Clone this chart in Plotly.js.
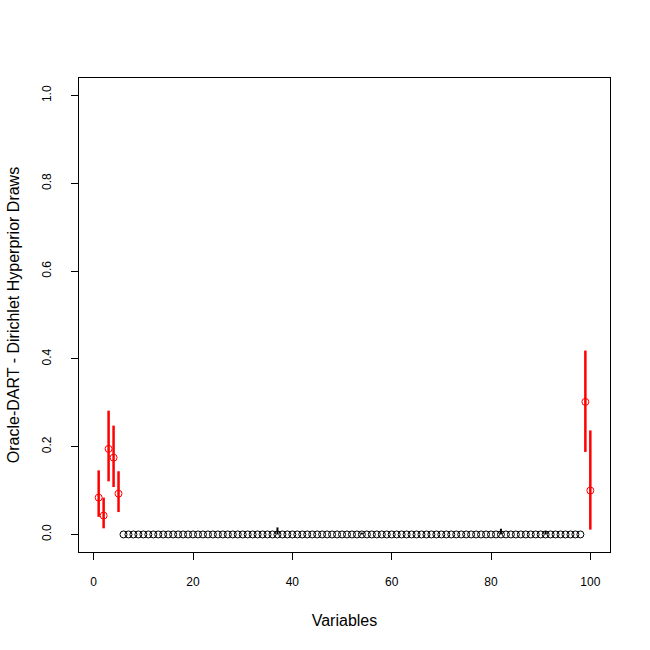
<!DOCTYPE html>
<html>
<head>
<meta charset="utf-8">
<script src="https://cdn.plot.ly/plotly-3.0.1.min.js"></script>
<style>
  html, body { margin: 0; padding: 0; background: #fff; }
  #chart { width: 650px; height: 650px; }
</style>
</head>
<body>
<div id="chart"></div>
<script>
// signal variables (red) with their interval ends
const signalX = [1, 2, 3, 4, 5, 99, 100];
const signalY = [0.084, 0.043, 0.195, 0.175, 0.093, 0.302, 0.100];
const signalLo = [0.040, 0.014, 0.121, 0.108, 0.051, 0.188, 0.011];
const signalHi = [0.146, 0.084, 0.282, 0.248, 0.144, 0.419, 0.237];

// noise variables (black), all drawn at zero
const noiseX = [
  6, 7, 8, 9, 10, 11, 12, 13, 14, 15, 16, 17, 18, 19, 20, 21, 22, 23, 24,
  25, 26, 27, 28, 29, 30, 31, 32, 33, 34, 35, 36, 37, 38, 39, 40, 41, 42,
  43, 44, 45, 46, 47, 48, 49, 50, 51, 52, 53, 54, 55, 56, 57, 58, 59, 60,
  61, 62, 63, 64, 65, 66, 67, 68, 69, 70, 71, 72, 73, 74, 75, 76, 77, 78,
  79, 80, 81, 82, 83, 84, 85, 86, 87, 88, 89, 90, 91, 92, 93, 94, 95, 96,
  97, 98
];
const noiseY = [
  0, 0, 0, 0, 0, 0, 0, 0, 0, 0, 0, 0, 0, 0, 0, 0, 0, 0, 0,
  0, 0, 0, 0, 0, 0, 0, 0, 0, 0, 0, 0, 0, 0, 0, 0, 0, 0,
  0, 0, 0, 0, 0, 0, 0, 0, 0, 0, 0, 0, 0, 0, 0, 0, 0, 0,
  0, 0, 0, 0, 0, 0, 0, 0, 0, 0, 0, 0, 0, 0, 0, 0, 0, 0,
  0, 0, 0, 0, 0, 0, 0, 0, 0, 0, 0, 0, 0, 0, 0, 0, 0, 0,
  0, 0
];

// the few noise variables whose interval is visible above zero
const blipX = [37, 54, 82, 91];
const blipY = [0, 0, 0, 0];
const blipHi = [0.016, 0.004, 0.013, 0.008];

const tickFont = { family: 'Liberation Sans, Arial, sans-serif', size: 12, color: '#000' };
const titleFont = { family: 'Liberation Sans, Arial, sans-serif', size: 16, color: '#000' };

const traces = [
  {
    x: blipX,
    y: blipY,
    type: 'scatter',
    mode: 'markers',
    marker: { size: 0.1, color: 'rgba(0,0,0,0)' },
    error_y: {
      type: 'data',
      symmetric: false,
      array: blipHi,
      arrayminus: blipY,
      color: '#000',
      thickness: 2,
      width: 0,
    },
    hoverinfo: 'skip',
  },
  {
    x: noiseX,
    y: noiseY,
    type: 'scatter',
    mode: 'markers',
    marker: {
      symbol: 'circle-open',
      size: 7,
      color: '#000',
      line: { width: 1, color: '#000' },
    },
  },
  {
    x: signalX,
    y: signalY,
    type: 'scatter',
    mode: 'markers',
    marker: {
      symbol: 'circle-open',
      size: 7,
      color: '#ff0000',
      line: { width: 1, color: '#ff0000' },
    },
    error_y: {
      type: 'data',
      symmetric: false,
      array: signalHi.map((h, i) => h - signalY[i]),
      arrayminus: signalLo.map((l, i) => signalY[i] - l),
      color: '#ff0000',
      thickness: 2.5,
      width: 0,
    },
  },
];

const layout = {
  width: 650,
  height: 650,
  margin: { l: 79, r: 40, t: 78, b: 98 },
  paper_bgcolor: '#fff',
  plot_bgcolor: '#fff',
  showlegend: false,
  xaxis: {
    range: [-2.96, 103.96],
    tickvals: [0, 20, 40, 60, 80, 100],
    ticks: 'outside',
    ticklen: 7,
    tickwidth: 1,
    tickcolor: '#000',
    showline: true,
    mirror: true,
    linecolor: '#000',
    linewidth: 1,
    showgrid: false,
    zeroline: false,
    tickfont: tickFont,
    ticklabelstandoff: 12,
    title: { text: 'Variables', font: titleFont, standoff: 26 },
  },
  yaxis: {
    range: [-0.04, 1.04],
    tickvals: [0, 0.2, 0.4, 0.6, 0.8, 1.0],
    ticktext: ['0.0', '0.2', '0.4', '0.6', '0.8', '1.0'],
    tickangle: -90,
    ticks: 'outside',
    ticklen: 7,
    tickwidth: 1,
    tickcolor: '#000',
    showline: true,
    mirror: true,
    linecolor: '#000',
    linewidth: 1,
    showgrid: false,
    zeroline: false,
    tickfont: tickFont,
    ticklabelstandoff: 15,
    title: { text: 'Oracle-DART - Dirichlet Hyperprior Draws', font: titleFont, standoff: 16 },
  },
};

Plotly.newPlot('chart', traces, layout, { displayModeBar: false, staticPlot: true });
</script>
</body>
</html>
